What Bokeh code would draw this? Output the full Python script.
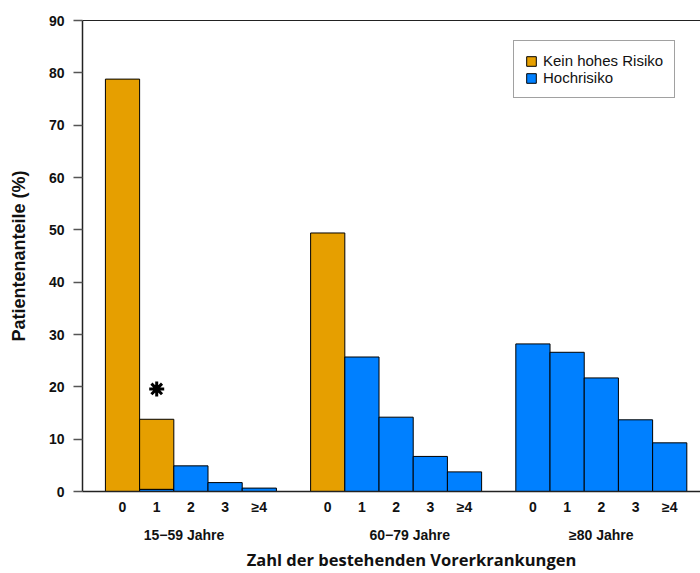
from bokeh.plotting import figure
from bokeh.models import (ColumnDataSource, Range1d, FixedTicker, LinearAxis, Legend, LegendItem)
from bokeh.embed import file_html
from bokeh.resources import INLINE

# ---- data ----
categories = ["0", "1", "2", "3", "≥4"]
age_groups = ["15−59 Jahre", "60−79 Jahre", "≥80 Jahre"]
kein_hohes_risiko = [
    [78.8, 13.4, 0.0, 0.0, 0.0],
    [49.4, 0.0, 0.0, 0.0, 0.0],
    [0.0, 0.0, 0.0, 0.0, 0.0],
]
hochrisiko = [
    [0.0, 0.4, 4.9, 1.7, 0.65],
    [0.0, 25.7, 14.2, 6.7, 3.75],
    [28.2, 26.6, 21.7, 13.7, 9.3],
]
sig_category = [1]      # bar marked with asterisk (first age group)
sig_level = [19.6]
y_ticks = list(range(0, 91, 10))
x_title = "Zahl der bestehenden Vorerkrankungen"
y_title = "Patientenanteile (%)"

ORANGE = "#E69F00"
BLUE = "#0080FF"
GROUP_STRIDE = len(categories) + 1
group_label_offset = [-0.2, 0.4, 0.0]  # layout offsets of group labels

# ---- build sources ----
def build(series, base_series=None):
    xs, bottoms, tops = [], [], []
    for g in range(len(age_groups)):
        for i in range(len(categories)):
            v = series[g][i]
            if v <= 0:
                continue
            b = base_series[g][i] if base_series is not None else 0.0
            xs.append(g * GROUP_STRIDE + i)
            bottoms.append(b)
            tops.append(b + v)
    return ColumnDataSource(dict(x=xs, bottom=bottoms, top=tops))

src_high = build(hochrisiko)
src_low = build(kein_hohes_risiko, hochrisiko)

p = figure(width=700, height=573, output_backend="svg", toolbar_location=None,
           x_range=Range1d(-1.17, 16.9), y_range=Range1d(0, 90),
           min_border_left=82, min_border_right=0, min_border_top=20, min_border_bottom=0)
p.outline_line_color = None
p.xgrid.visible = False
p.ygrid.visible = False
p.background_fill_color = "white"
p.border_fill_color = "white"

r_low = p.vbar(x="x", bottom="bottom", top="top", width=1.0, source=src_low,
               fill_color=ORANGE, line_color="black", line_width=1)
r_high = p.vbar(x="x", bottom="bottom", top="top", width=1.0, source=src_high,
                fill_color=BLUE, line_color="black", line_width=1)

p.scatter(x=sig_category, y=sig_level, marker="asterisk", size=15,
          line_color="black", line_width=3)

# y axis
ya = p.yaxis[0]
ya.ticker = FixedTicker(ticks=y_ticks)
ya.major_tick_out = 9
ya.major_tick_in = 0
ya.minor_tick_out = 0
ya.minor_tick_in = 0
ya.major_tick_line_color = "#555555"
ya.major_tick_line_width = 1.5
ya.axis_line_width = 1.5
ya.axis_line_color = "#222222"
ya.major_label_text_font = "Liberation Sans"
ya.major_label_text_font_style = "bold"
ya.major_label_text_font_size = "14px"
ya.major_label_text_color = "#111111"
ya.major_label_standoff = 9
ya.axis_label = y_title
ya.axis_label_text_font = "Liberation Sans"
ya.axis_label_text_font_style = "bold"
ya.axis_label_text_font_size = "18px"
ya.axis_label_text_color = "#111111"
ya.axis_label_standoff = 17

# x axis (categories)
tick_pos = [g * GROUP_STRIDE + i for g in range(len(age_groups)) for i in range(len(categories))]
tick_lab = {g * GROUP_STRIDE + i: categories[i] for g in range(len(age_groups)) for i in range(len(categories))}
xa = p.xaxis[0]
xa.ticker = FixedTicker(ticks=tick_pos)
xa.major_label_overrides = tick_lab
xa.major_tick_out = 0
xa.major_tick_in = 0
xa.minor_tick_out = 0
xa.minor_tick_in = 0
xa.axis_line_width = 1.5
xa.axis_line_color = "#222222"
xa.major_label_text_font = "Liberation Sans"
xa.major_label_text_font_style = "bold"
xa.major_label_text_font_size = "14px"
xa.major_label_text_color = "#111111"
xa.major_label_standoff = 7

# group labels axis
centers = [g * GROUP_STRIDE + (len(categories) - 1) / 2 + group_label_offset[g] for g in range(len(age_groups))]
ga = LinearAxis(ticker=FixedTicker(ticks=centers),
                major_label_overrides={c: lab for c, lab in zip(centers, age_groups)})
ga.axis_line_color = None
ga.major_tick_line_color = None
ga.minor_tick_line_color = None
ga.major_tick_out = 0
ga.major_tick_in = 0
ga.major_label_text_font = "Liberation Sans"
ga.major_label_text_font_style = "bold"
ga.major_label_text_font_size = "14px"
ga.major_label_text_color = "#111111"
ga.major_label_standoff = 9
p.add_layout(ga, "below")

# title axis
title_x = 8.45
ta = LinearAxis(ticker=FixedTicker(ticks=[title_x]), major_label_overrides={title_x: x_title})
ta.axis_line_color = None
ta.major_tick_line_color = None
ta.minor_tick_line_color = None
ta.major_tick_out = 0
ta.major_tick_in = 0
ta.major_label_text_font = "Open Sans"
ta.major_label_text_font_style = "bold"
ta.major_label_text_font_size = "16.5px"
ta.major_label_text_color = "#111111"
ta.major_label_standoff = 2
p.add_layout(ta, "below")

# top line
top = LinearAxis(ticker=FixedTicker(ticks=[]))
top.major_tick_out = 0
top.major_tick_in = 0
top.minor_tick_out = 0
top.minor_tick_in = 0
top.major_label_text_font_size = "0px"
top.major_label_standoff = 0
top.axis_line_width = 1.2
top.axis_line_color = "#222222"
p.add_layout(top, "above")

legend = Legend(items=[LegendItem(label="Kein hohes Risiko", renderers=[r_low]),
                       LegendItem(label="Hochrisiko", renderers=[r_high])],
                location=(431, 393))
legend.margin = 0
legend.padding = 11
legend.spacing = 0
legend.glyph_width = 12
legend.glyph_height = 12
legend.label_height = 16
legend.label_standoff = 6
legend.label_text_font = "Liberation Sans"
legend.label_text_font_size = "15px"
legend.label_text_color = "#111111"
legend.border_line_color = "#444444"
legend.border_line_width = 1
legend.background_fill_color = "white"
legend.background_fill_alpha = 1.0
p.add_layout(legend)

open("out.html", "w").write(file_html(p, INLINE))
